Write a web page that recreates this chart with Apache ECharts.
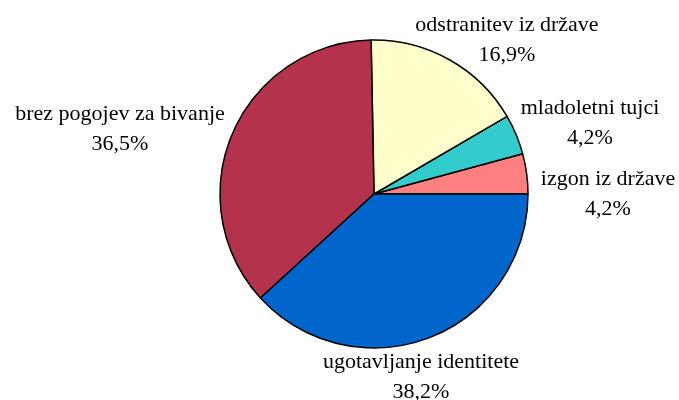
<!DOCTYPE html>
<html>
<head>
<meta charset="utf-8">
<script src="https://cdn.jsdelivr.net/npm/echarts@6/dist/echarts.min.js"></script>
<style>
  html, body { margin: 0; padding: 0; background: #fff; }
  #chart { width: 679px; height: 400px; }
</style>
</head>
<body>
<div id="chart"></div>
<script>
// slices, counter-clockwise from 3 o'clock
const categories = ['izgon iz države', 'mladoletni tujci', 'odstranitev iz države', 'brez pogojev za bivanje', 'ugotavljanje identitete']
const shares = [4.2, 4.2, 16.9, 36.5, 38.2]
const sliceColors = ['#FF8080', '#33CCCC', '#FFFFCC', '#B5324C', '#0066CC']

// label block centres
const labelSpots = [[608, 194], [590, 123], [507, 40], [120, 129], [421, 377]]

const chart = echarts.init(document.getElementById('chart'))

chart.setOption({
  animation: false,
  backgroundColor: '#fff',
  textStyle: { fontFamily: '"Liberation Serif", "Times New Roman", serif' },
  series: [{
    type: 'pie',
    center: [374, 194],
    radius: 154,
    startAngle: 0,
    clockwise: false,
    data: categories.map((name, i) => ({
      name,
      value: shares[i],
      itemStyle: { color: sliceColors[i] }
    })),
    itemStyle: { borderColor: '#000', borderWidth: 1.5 },
    label: {
      show: true,
      position: 'outside',
      formatter: p => p.name + '\n' + p.value.toFixed(1).replace('.', ',') + '%',
      fontFamily: '"Liberation Serif", "Times New Roman", serif',
      fontSize: 22,
      lineHeight: 30,
      color: '#000',
      align: 'center',
      overflow: 'none',
      width: 300
    },
    labelLine: { show: false },
    labelLayout: p => ({
      x: labelSpots[p.dataIndex][0],
      y: labelSpots[p.dataIndex][1],
      align: 'center',
      verticalAlign: 'middle'
    }),
    emphasis: { disabled: true }
  }]
})
</script>
</body>
</html>
